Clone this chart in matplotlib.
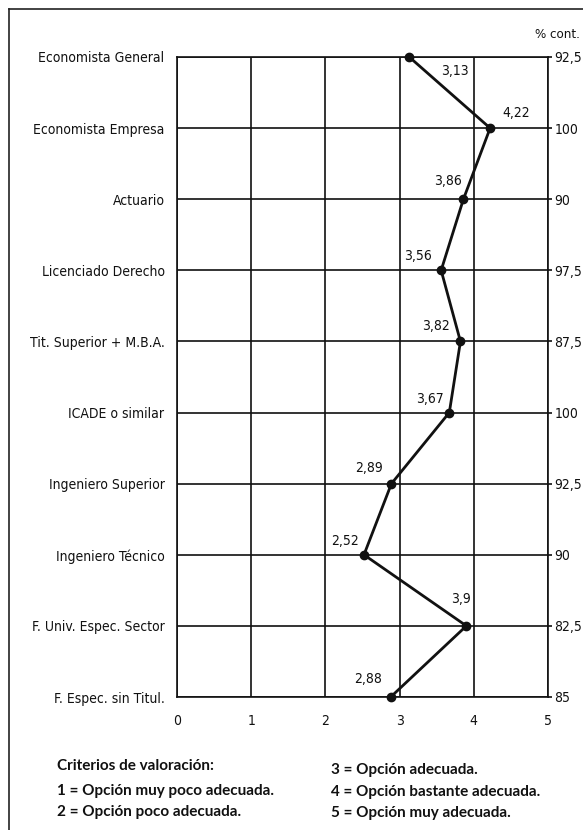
import matplotlib
matplotlib.use("Agg")
import matplotlib.pyplot as plt
from matplotlib import font_manager
from matplotlib.lines import Line2D

# ---------------- data ----------------
categories = ["Economista General", "Economista Empresa", "Actuario",
              "Licenciado Derecho", "Tit. Superior + M.B.A.", "ICADE o similar",
              "Ingeniero Superior", "Ingeniero Técnico", "F. Univ. Espec. Sector",
              "F. Espec. sin Titul."]
valoracion = [3.13, 4.22, 3.86, 3.56, 3.82, 3.67, 2.89, 2.52, 3.90, 2.88]
valoracion_labels = ["3,13", "4,22", "3,86", "3,56", "3,82", "3,67",
                     "2,89", "2,52", "3,9", "2,88"]
pct_cont = ["92,5", "100", "90", "97,5", "87,5", "100", "92,5", "90", "82,5", "85"]
x_ticks = [0, 1, 2, 3, 4, 5]
legend_left = ["Criterios de valoración:", "1 = Opción muy poco adecuada.",
               "2 = Opción poco adecuada."]
legend_right = ["3 = Opción adecuada.", "4 = Opción bastante adecuada.",
                "5 = Opción muy adecuada."]

# ---------------- fonts ----------------
names = {f.name for f in font_manager.fontManager.ttflist}
cond = [f for f in font_manager.fontManager.ttflist
        if f.name == "DejaVu Sans" and str(f.stretch) in ("condensed", "semi-condensed", "600", "700")]
if cond:
    light_font = dict(family="DejaVu Sans", stretch="condensed", weight="normal")
elif "Liberation Sans Narrow" in names:
    light_font = dict(family="Liberation Sans Narrow", weight="normal")
else:
    light_font = dict(family="Lato", weight="light")
bold_font = dict(family="Lato", weight="bold")

W, H = 583, 830
fig = plt.figure(figsize=(W / 100, H / 100), dpi=100)
fig.patch.set_facecolor("white")

x0, x1 = 177, 548
y0, y1 = 57, 697
ax = fig.add_axes([x0 / W, 1 - y1 / H, (x1 - x0) / W, (y1 - y0) / H])
n = len(categories)
ypos = list(range(n))
ax.set_xlim(0, 5)
ax.set_ylim(n - 1, 0)

ink = "#111111"
fs = 10
for s in ax.spines.values():
    s.set_linewidth(1.2)
    s.set_color(ink)
ax.set_xticks(x_ticks)
ax.set_xticklabels([str(t) for t in x_ticks], fontsize=fs, color=ink, **light_font)
ax.set_yticks(ypos)
ax.set_yticklabels(categories, fontsize=fs, color=ink, **light_font)
ax.tick_params(axis="x", length=0, pad=12)
ax.tick_params(axis="y", length=0, pad=9)
ax.grid(True, color=ink, linewidth=1.2)
ax.set_axisbelow(True)

ax2 = ax.twinx()
ax2.set_ylim(n - 1, 0)
ax2.set_yticks(ypos)
ax2.set_yticklabels(pct_cont, fontsize=fs, color=ink, **light_font)
ax2.tick_params(axis="y", length=3, width=1.2, pad=1.5, color=ink)
for s in ax2.spines.values():
    s.set_visible(False)

ax.plot(valoracion, ypos, color=ink, linewidth=2.0, marker="o",
        markersize=6, zorder=5, clip_on=False)

# label offsets (points) and alignments
offsets = [(23, -5, "left", "top"), (9, 6, "left", "bottom"),
           (-1, 8, "right", "bottom"), (-7, 5, "right", "bottom"),
           (-8, 6, "right", "bottom"), (-4, 5, "right", "bottom"),
           (-6, 6, "right", "bottom"), (-4, 5, "right", "bottom"),
           (3, 14, "right", "bottom"), (-6, 8, "right", "bottom")]
for v, yv, lab, (dx, dy, ha, va) in zip(valoracion, ypos, valoracion_labels, offsets):
    ax.annotate(lab, (v, yv), xytext=(dx, dy), textcoords="offset points",
                ha=ha, va=va, fontsize=fs, color=ink, **light_font)

fig.text(580 / W, 1 - 35 / H, "% cont.", ha="right", va="center", fontsize=9.5,
         color=ink, **light_font)

# legend text
left_y = [766, 791, 812]
right_y = [770, 792, 813]
for t, yy in zip(legend_left, left_y):
    fig.text(57 / W, 1 - yy / H, t, ha="left", va="center", fontsize=11,
             color=ink, **bold_font)
for t, yy in zip(legend_right, right_y):
    fig.text(331 / W, 1 - yy / H, t, ha="left", va="center", fontsize=11,
             color=ink, **bold_font)

# outer frame (left and top edges)
fig.add_artist(Line2D([9 / W, 9 / W], [0, 1 - 9 / H], transform=fig.transFigure,
                      color="#222222", linewidth=1.2))
fig.add_artist(Line2D([9 / W, 1], [1 - 9 / H, 1 - 9 / H], transform=fig.transFigure,
                      color="#222222", linewidth=1.2))

fig.savefig("out.png", dpi=100, facecolor="white")
